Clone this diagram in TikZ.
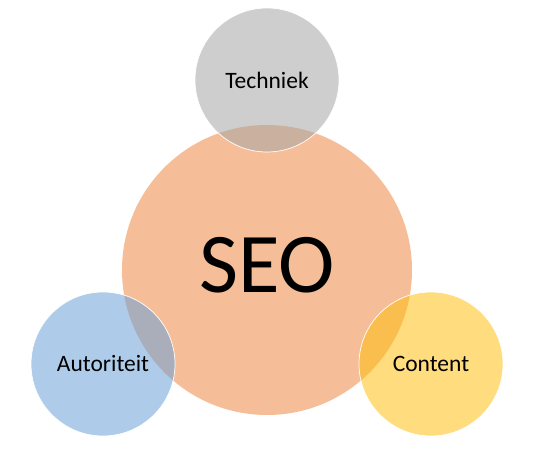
\documentclass[tikz,border=0pt]{standalone}
\usepackage{fontspec}
\setmainfont{Carlito}
\usepackage{tikz}
\usetikzlibrary{positioning}
\definecolor{colSeo}{RGB}{237,125,49}
\definecolor{colTech}{RGB}{166,166,166}
\definecolor{colAut}{RGB}{107,162,216}
\definecolor{colCon}{RGB}{255,191,18}

\begin{document}
\begin{tikzpicture}[
  x=1pt, y=1pt,
  big/.style={
    circle, fill=colSeo, fill opacity=0.5, text opacity=1,
    minimum size=290pt, inner sep=0pt
  },
  small/.style={
    circle, draw=white, line width=0.7pt, fill opacity=0.55,
    text opacity=1, draw opacity=1,
    minimum size=144pt, inner sep=0pt,
    font=\fontsize{23.5}{27}\selectfont
  },
  big text/.style={font=\fontsize{85}{90}\selectfont, inner sep=0pt}
]
\useasboundingbox (0,0) rectangle (543,458);
% Centre
\node[big] (seo) at (267,188) {};
\node[big text] (seotxt) at ([yshift=4.5pt]seo.center) {SEO};
% Satellites
\node[small,fill=colTech] (tech) at (267,378) {Techniek};
\node[small,fill=colAut] (aut) at (103,94) {Autoriteit};
\node[small,fill=colCon] (con) at (431,94) {Content};
\end{tikzpicture}
\end{document}
